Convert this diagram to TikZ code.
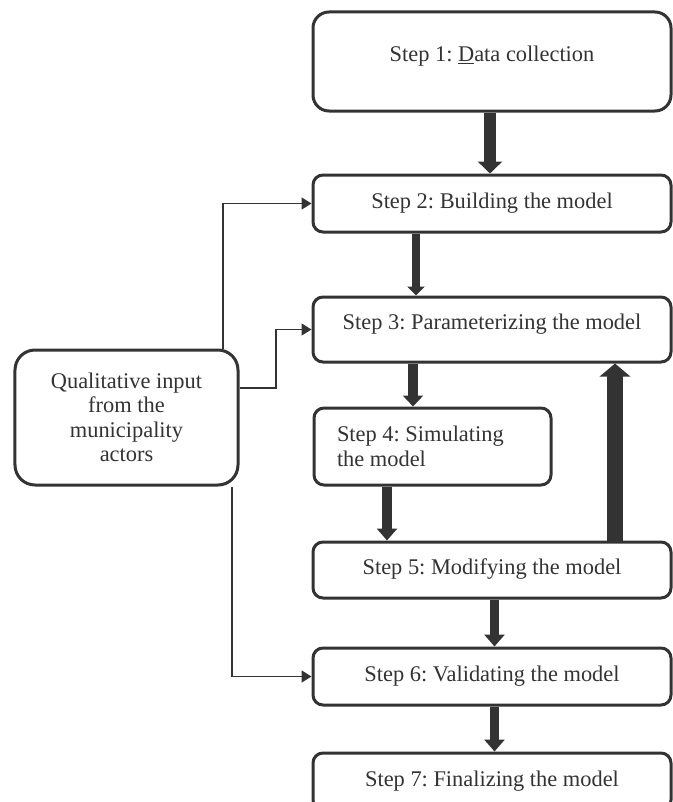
\documentclass[tikz,border=0pt]{standalone}
\usepackage{fontspec}
\setmainfont{Liberation Serif}
\usetikzlibrary{arrows.meta}
\definecolor{ink}{HTML}{333333}
\frenchspacing

\tikzset{
  stepbox/.style={draw=ink, line width=3bp, fill=white, rounded corners=10bp,
    text=ink, font=\fontsize{22.4bp}{24.5bp}\selectfont, align=center,
    inner sep=0pt, text height=15.5bp, text depth=6bp},
  fat/.style n args={3}{draw=ink, line width=#1,
    -{Triangle[length=#2, width=#3]}},
  feed/.style={draw=ink, line width=1.6bp,
    -{Triangle[length=10bp, width=12bp]}},
}

\begin{document}
\begin{tikzpicture}[x=1bp, y=-1bp]
  \useasboundingbox (0,0) rectangle (673,802);
  \clip (0,0) rectangle (673,802);

  % process steps
  \node[stepbox, rounded corners=16bp, minimum width=358bp, minimum height=99bp,
        text height=15.5bp, text depth=15.5bp]
        (b1) at (492,61.5) {Step 1: \underline{D}ata collection};
  \node[stepbox, minimum width=358bp, minimum height=57bp]
        (b2) at (492,203.5) {Step 2: Building the model};
  \node[stepbox, minimum width=358bp, minimum height=65bp,
        text height=15.5bp, text depth=15.5bp]
        (b3) at (492,329.5) {Step 3: Parameterizing the model};
  \node[stepbox, minimum width=237bp, minimum height=77bp, align=flush left,
        text width=191bp, text height=, text depth=]
        (b4) at (432.5,446.5) {Step 4: Simulating\\the model};
  \node[stepbox, minimum width=358bp, minimum height=56bp]
        (b5) at (492,570) {Step 5: Modifying the model};
  \node[stepbox, minimum width=358bp, minimum height=57bp]
        (b6) at (492,676.5) {Step 6: Validating the model};
  \node[stepbox, minimum width=358bp, minimum height=57bp]
        (b7) at (492,781.5) {Step 7: Finalizing the model};

  % stakeholder input
  \node[stepbox, rounded corners=20bp, minimum width=223bp, minimum height=135bp,
        text height=, text depth=]
        (bq) at (126.5,417.5) {Qualitative input\\from the\\municipality\\actors};

  % columns and rows used by the connectors
  \coordinate (c12) at (490,0);
  \coordinate (c23) at (416,0);
  \coordinate (c34) at (413,0);
  \coordinate (c45) at (387,0);
  \coordinate (c53) at (615,0);
  \coordinate (c56) at (494.5,0);
  \coordinate (qa) at (223,0);
  \coordinate (qb) at (276,388);
  \coordinate (qc) at (232,0);

  % main flow
  \draw[fat={12bp}{12bp}{24bp}] (b1.south -| c12) -- (b2.north -| c12);
  \draw[fat={8bp}{9bp}{17bp}]   (b2.south -| c23) -- (b3.north -| c23);
  \draw[fat={10bp}{11bp}{20bp}] (b3.south -| c34) -- (b4.north -| c34);
  \draw[fat={10bp}{12bp}{20bp}] (b4.south -| c45) -- (b5.north -| c45);
  \draw[fat={16bp}{13bp}{30bp}] (b5.north -| c53) -- (b3.south -| c53);
  \draw[fat={9bp}{12bp}{20bp}]  (b5.south -| c56) -- (b6.north -| c56);
  \draw[fat={9bp}{12bp}{20bp}]  (b6.south -| c56) -- (b7.north -| c56);

  % feedback from the municipality actors
  \draw[feed] (bq.north -| qa) |- (b2.west);
  \draw[feed] (bq.east |- qb) -- (qb) |- (b3.west);
  \draw[feed] (bq.south -| qc) |- (b6.west);
\end{tikzpicture}
\end{document}
